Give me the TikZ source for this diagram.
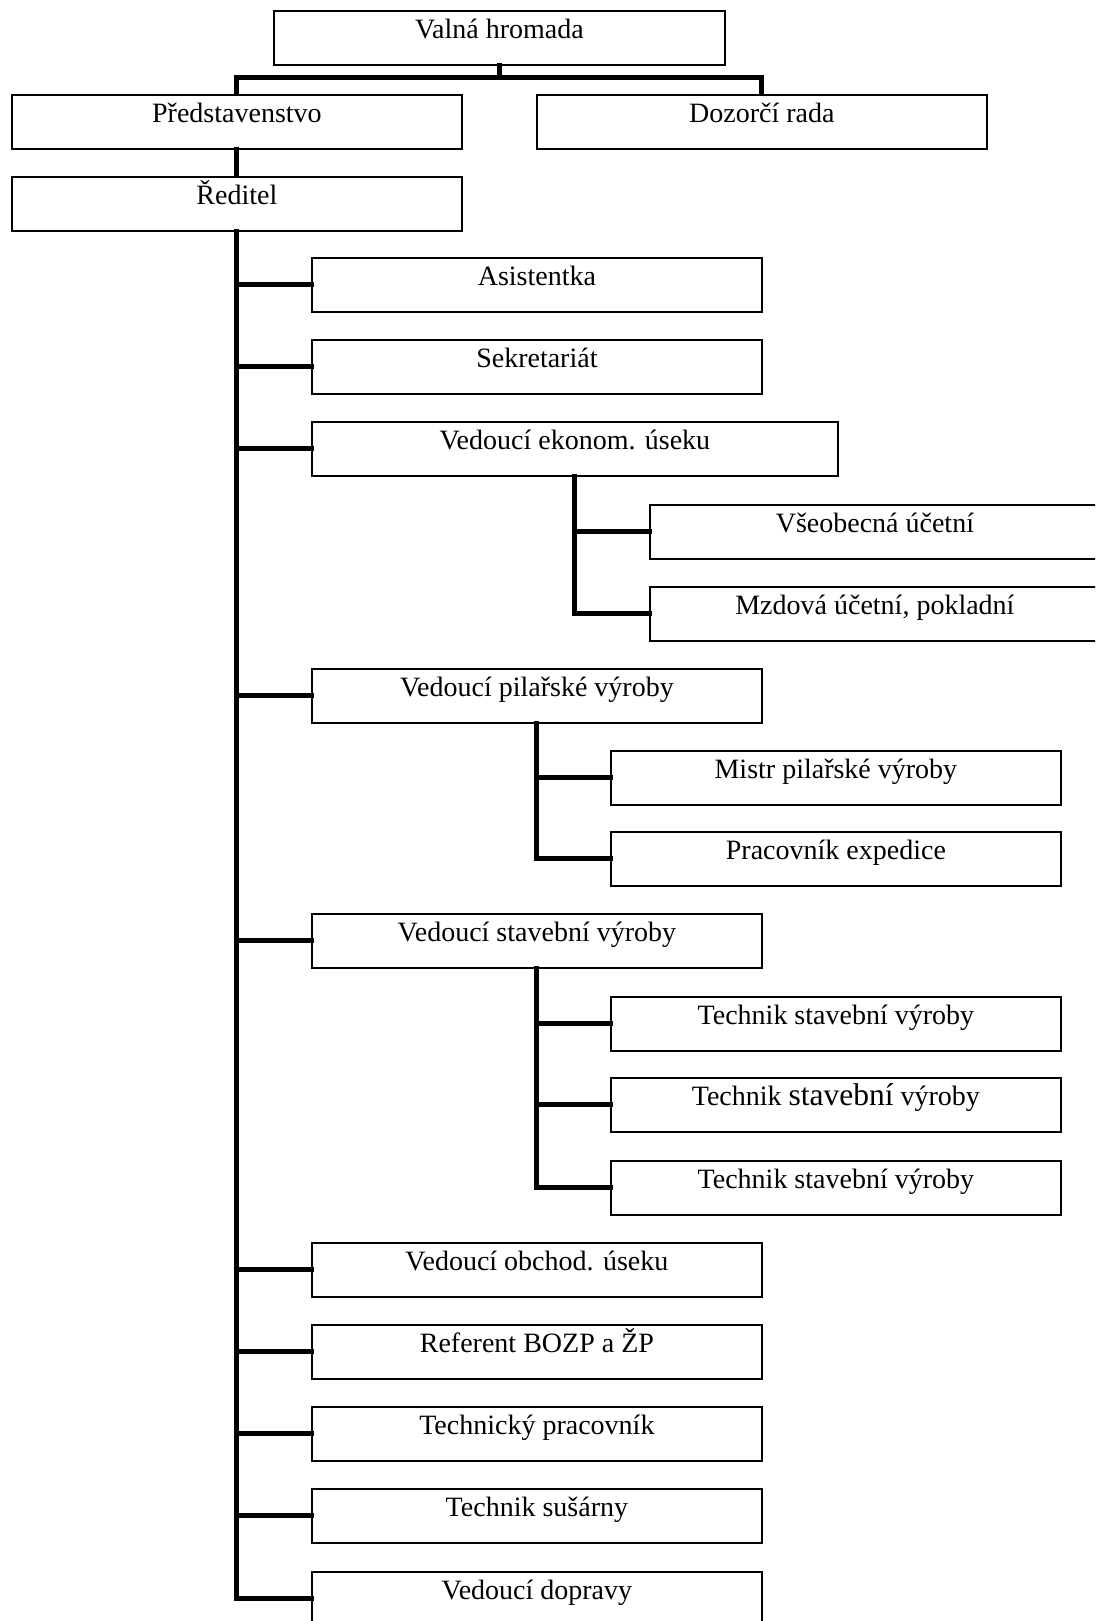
\documentclass[tikz,border=0pt]{standalone}
\usepackage{fontspec}
\setmainfont{Liberation Serif}
\begin{document}
\begin{tikzpicture}[x=1pt,y=-1pt,
  box/.style={draw, line width=1.8pt, rectangle, anchor=north west,
    inner xsep=0pt, inner ysep=0pt, text height=28pt, text depth=26pt,
    minimum width=#1, font=\fontsize{28}{30}\selectfont},
  box/.default=450pt,
  conn/.style={line width=5pt, line join=miter, line cap=rect}]
\useasboundingbox (0,0) rectangle (1095,1621);
\clip (0,0) rectangle (1095,1621);
% boxes
\node[box=451pt] (vh) at (273,10) {Valná hromada};
\node[box] (pr) at (11,94) {Představenstvo};
\node[box] (dr) at (536,94) {Dozorčí rada};
\node[box] (re) at (11,176) {Ředitel};
\node[box] (as) at (311,257) {Asistentka};
\node[box] (se) at (311,339) {Sekretariát};
\node[box=526pt] (ek) at (311,421) {Vedoucí ekonom. úseku};
\node[box] (vs) at (649,504) {Všeobecná účetní};
\node[box] (mz) at (649,586) {Mzdová účetní, pokladní};
\node[box] (pi) at (311,668) {Vedoucí pilařské výroby};
\node[box] (mi) at (610,750) {Mistr pilařské výroby};
\node[box] (px) at (610,831) {Pracovník expedice};
\node[box] (st) at (311,913) {Vedoucí stavební výroby};
\node[box] (t1) at (610,996) {Technik stavební výroby};
\node[box] (t2) at (610,1077) {Technik {\fontsize{31.5}{32}\selectfont stavební} výroby};
\node[box] (t3) at (610,1160) {Technik stavební výroby};
\node[box] (ob) at (311,1242) {Vedoucí obchod. úseku};
\node[box] (rf) at (311,1324) {Referent BOZP a ŽP};
\node[box] (tp) at (311,1406) {Technický pracovník};
\node[box] (ts) at (311,1488) {Technik sušárny};
\node[box] (dp) at (311,1571) {Vedoucí dopravy};
% top connectors
\coordinate (j) at (499,78);
\draw[conn] (vh.south) -- (vh.south |- j);
\draw[conn] (pr.north) -- (pr.north |- j) -- (dr.north |- j) -- (dr.north);
\draw[conn] (pr.south) -- (re.north);
% main spine
\draw[conn] (re.south) |- (dp.west);
\foreach \n in {as,se,ek,pi,st,ob,rf,tp,ts}
  \draw[conn] (\n.west) -- (\n.west -| re.south);
% sub spines
\draw[conn] (ek.south) |- (mz.west);
\draw[conn] (vs.west) -- (vs.west -| ek.south);
\draw[conn] (pi.south) |- (px.west);
\draw[conn] (mi.west) -- (mi.west -| pi.south);
\draw[conn] (st.south) |- (t3.west);
\draw[conn] (t1.west) -- (t1.west -| st.south);
\draw[conn] (t2.west) -- (t2.west -| st.south);
\end{tikzpicture}
\end{document}
